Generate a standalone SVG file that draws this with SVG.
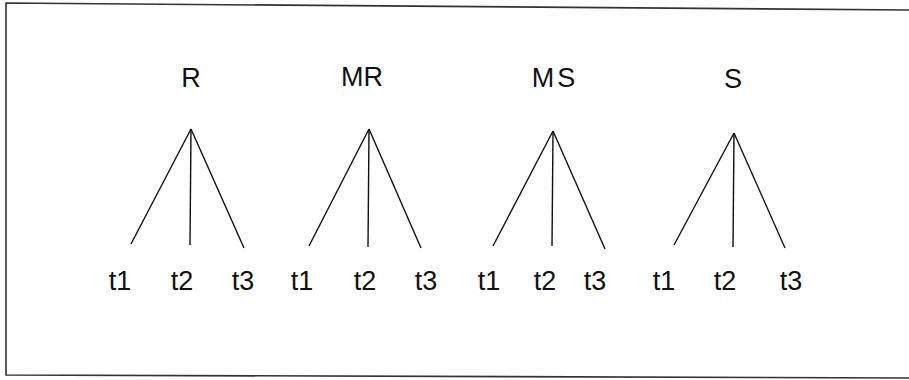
<svg xmlns="http://www.w3.org/2000/svg" width="909" height="380" viewBox="0 0 909 380">
<style>
.frame{fill:none;stroke:#333;stroke-width:1.6}
.edge{stroke:#111;stroke-width:1.4;fill:none}
.lbl{font-family:"Liberation Sans",Arial,sans-serif;font-size:27px;fill:#111;text-anchor:middle}
</style>
<rect width="909" height="380" fill="#fff"/>
<path class="frame" d="M909 10 L6 3 L6 375 L909 378"/>
<g id="connectors">
<line class="edge" x1="191" y1="129" x2="131" y2="244"/>
<line class="edge" x1="191" y1="129" x2="190" y2="245"/>
<line class="edge" x1="191" y1="129" x2="244" y2="248"/>
<line class="edge" x1="369" y1="129" x2="309" y2="246"/>
<line class="edge" x1="369" y1="129" x2="368" y2="247"/>
<line class="edge" x1="369" y1="129" x2="421" y2="248"/>
<line class="edge" x1="553" y1="131" x2="493" y2="246"/>
<line class="edge" x1="553" y1="131" x2="552" y2="246"/>
<line class="edge" x1="553" y1="131" x2="605" y2="249"/>
<line class="edge" x1="734" y1="133" x2="674" y2="245"/>
<line class="edge" x1="734" y1="133" x2="733" y2="247"/>
<line class="edge" x1="734" y1="133" x2="785" y2="248"/>
</g>
<g id="R"><text class="lbl" x="191" y="87">R</text></g>
<g id="MR"><text class="lbl" x="362" y="86">MR</text></g>
<g id="MS"><text class="lbl" x="555" y="87" letter-spacing="3">MS</text></g>
<g id="S"><text class="lbl" x="733" y="88">S</text></g>
<g id="R_t1"><text class="lbl" x="120" y="290">t1</text></g>
<g id="R_t2"><text class="lbl" x="182" y="290">t2</text></g>
<g id="R_t3"><text class="lbl" x="243" y="290">t3</text></g>
<g id="MR_t1"><text class="lbl" x="302" y="290">t1</text></g>
<g id="MR_t2"><text class="lbl" x="365" y="290">t2</text></g>
<g id="MR_t3"><text class="lbl" x="426" y="290">t3</text></g>
<g id="MS_t1"><text class="lbl" x="489" y="290">t1</text></g>
<g id="MS_t2"><text class="lbl" x="545" y="290">t2</text></g>
<g id="MS_t3"><text class="lbl" x="595" y="290">t3</text></g>
<g id="S_t1"><text class="lbl" x="664" y="290">t1</text></g>
<g id="S_t2"><text class="lbl" x="725" y="290">t2</text></g>
<g id="S_t3"><text class="lbl" x="791" y="290">t3</text></g>
</svg>
